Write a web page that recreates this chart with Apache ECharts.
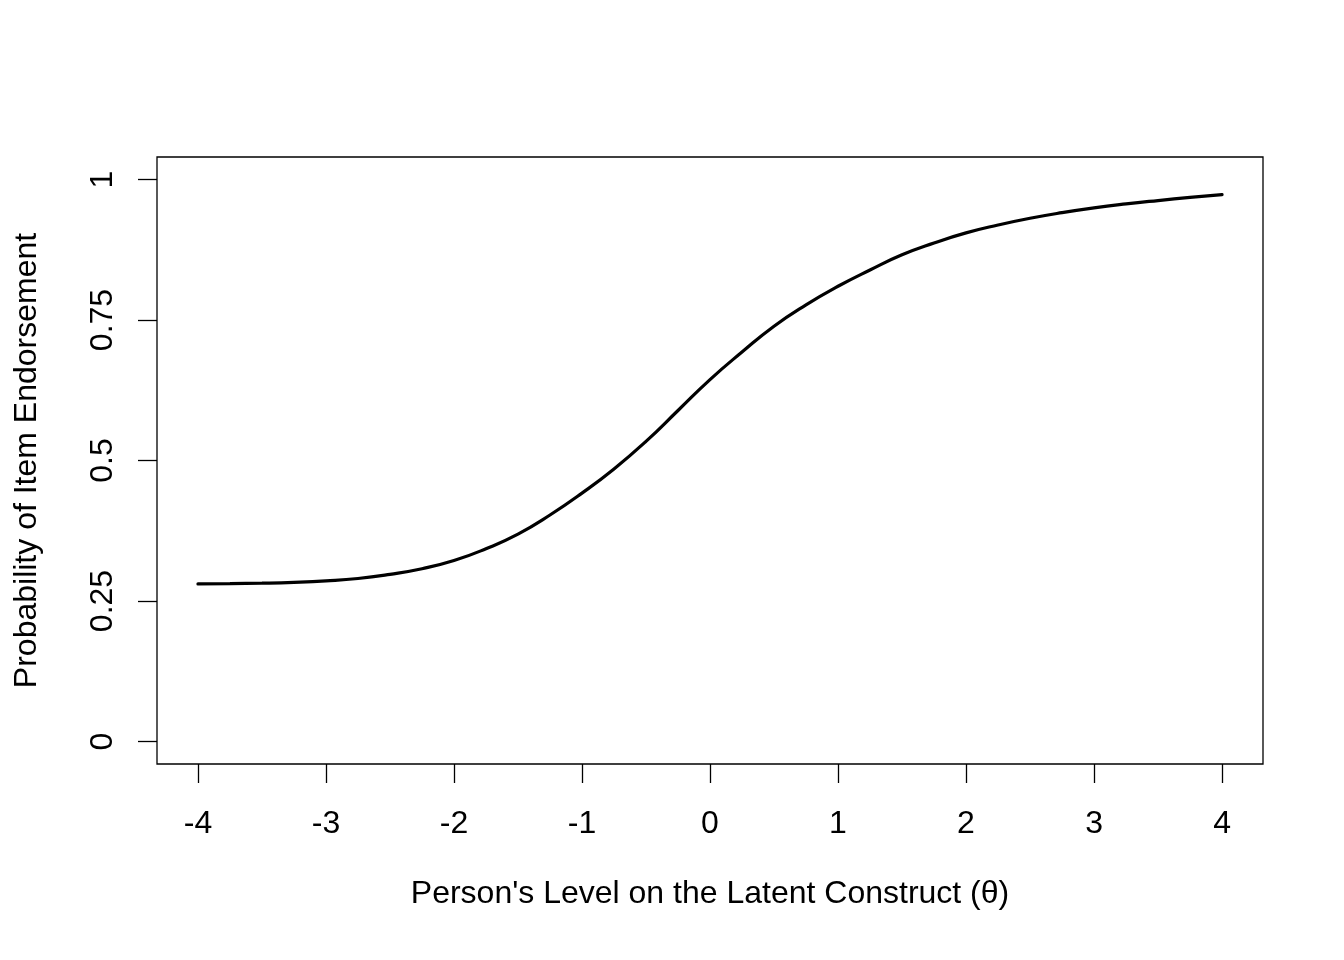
<!DOCTYPE html>
<html>
<head>
<meta charset="utf-8">
<script src="https://cdn.jsdelivr.net/npm/echarts@6/dist/echarts.min.js"></script>
<style>
html,body{margin:0;padding:0;background:#fff;}
#chart{width:1344px;height:960px;}
</style>
</head>
<body>
<div id="chart"></div>
<script>
// Values
const theta = [-4, -3.75, -3.5, -3.25, -3, -2.75, -2.5, -2.25, -2, -1.75, -1.5, -1.25, -1, -0.75, -0.5, -0.25, 0, 0.25, 0.5, 0.75, 1, 1.25, 1.5, 1.75, 2, 2.25, 2.5, 2.75, 3, 3.25, 3.5, 3.75, 4];
const prob  = [0.2804, 0.2809, 0.2817, 0.2832, 0.2858, 0.2900, 0.2975, 0.3075, 0.322, 0.343, 0.369, 0.403, 0.442, 0.485, 0.534, 0.589, 0.644, 0.693, 0.739, 0.777, 0.810, 0.839, 0.866, 0.887, 0.905, 0.919, 0.931, 0.941, 0.9495, 0.9565, 0.9625, 0.968, 0.973];
const xTicks = [-4, -3, -2, -1, 0, 1, 2, 3, 4];
const xTickLabels = ['-4', '-3', '-2', '-1', '0', '1', '2', '3', '4'];
const yTicks = [0, 0.25, 0.5, 0.75, 1];
const yTickLabels = ['0', '0.25', '0.5', '0.75', '1'];
const xTitle = "Person's Level on the Latent Construct (\u03B8)";
const yTitle = 'Probability of Item Endorsement';

const font = "'Liberation Sans', Arial, Helvetica, sans-serif";
const fs = 32;
const chart = echarts.init(document.getElementById('chart'), null, {renderer: 'canvas'});
const data = theta.map((t, i) => [t, prob[i]]);

chart.setOption({
  animation: false,
  backgroundColor: '#fff',
  grid: {left: 157, right: 81, top: 157, bottom: 196, show: true, borderColor: '#000', borderWidth: 1.3, backgroundColor: 'transparent'},
  xAxis: {
    type: 'value', min: -4.32, max: 4.32,
    axisLine: {show: false, onZero: false},
    splitLine: {show: false},
    axisTick: {show: true, inside: false, length: 19, customValues: xTicks, lineStyle: {color: '#000', width: 1.3}},
    axisLabel: {show: true, customValues: xTicks, margin: 44, color: '#000', fontSize: fs, fontFamily: font,
      formatter: v => xTickLabels[xTicks.indexOf(v)] ?? ''},
    name: xTitle, nameLocation: 'middle', nameGap: 114,
    nameTextStyle: {color: '#000', fontSize: fs, fontFamily: font}
  },
  yAxis: {
    type: 'value', min: -0.04, max: 1.04,
    axisLine: {show: false, onZero: false},
    splitLine: {show: false},
    axisTick: {show: true, inside: false, length: 19, customValues: yTicks, lineStyle: {color: '#000', width: 1.3}},
    axisLabel: {show: true, customValues: yTicks, rotate: 90, margin: 38, color: '#000', fontSize: fs, fontFamily: font,
      formatter: v => yTickLabels[yTicks.indexOf(v)] ?? ''},
    name: yTitle, nameLocation: 'middle', nameGap: 114,
    nameTextStyle: {color: '#000', fontSize: fs, fontFamily: font}
  },
  series: [{
    type: 'line', data: data, showSymbol: false, smooth: 0.5,
    lineStyle: {color: '#000', width: 3.2, cap: 'round'},
    clip: false
  }]
});
</script>
</body>
</html>
